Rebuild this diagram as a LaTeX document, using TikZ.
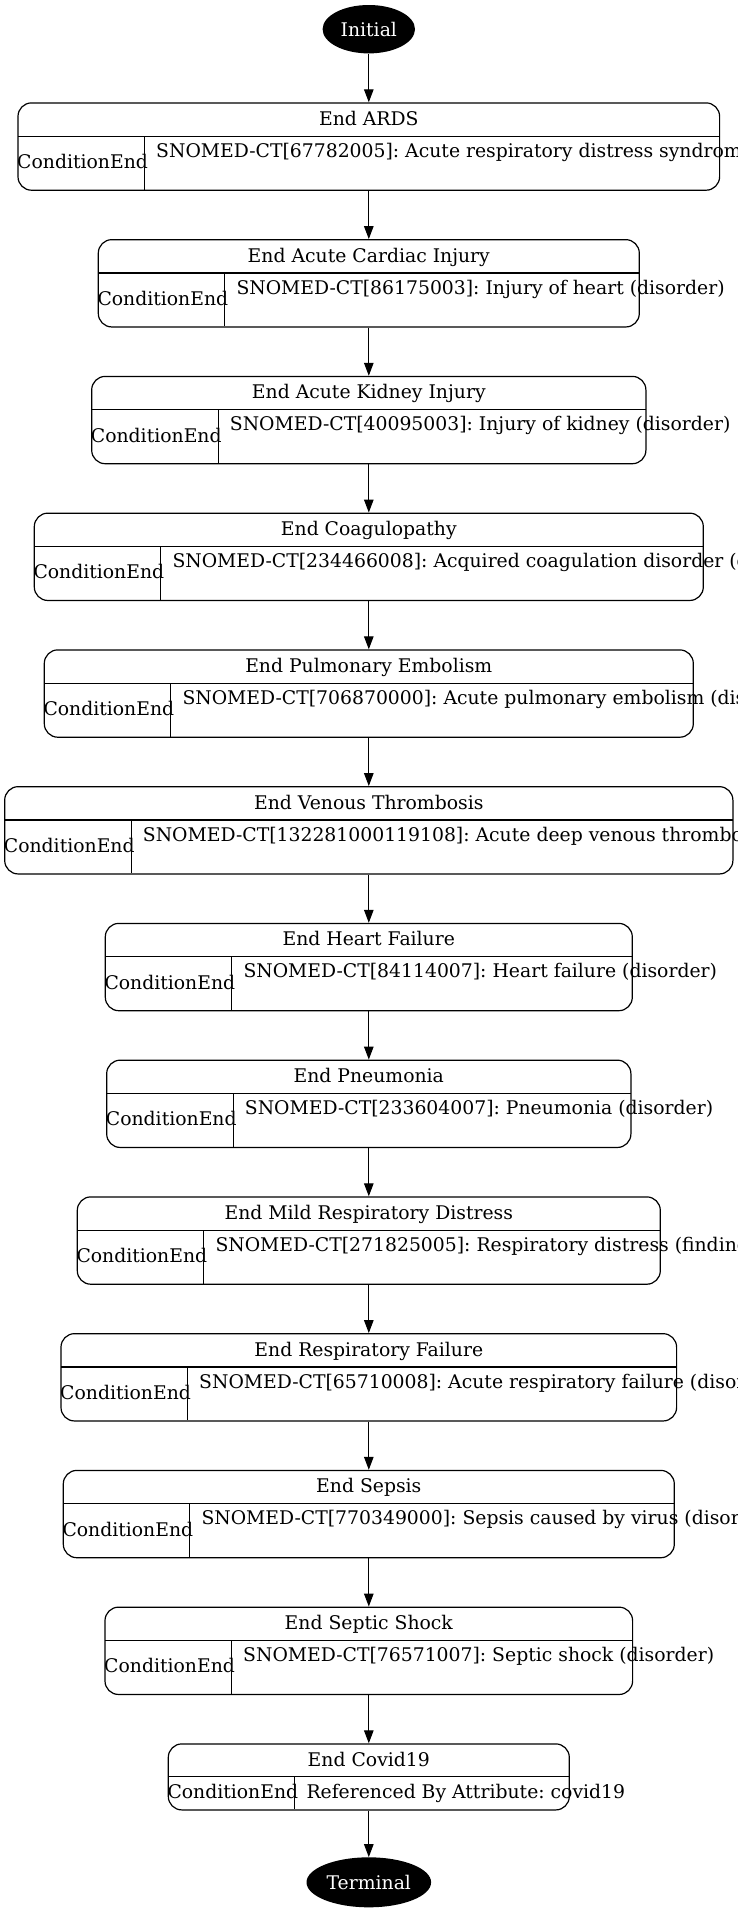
\documentclass[tikz,border=0pt]{standalone}
\usepackage{fontspec}
\setmainfont{DejaVu Serif}
\usetikzlibrary{shapes.geometric,arrows.meta}
\frenchspacing
\newcommand\lblfont{\fontsize{18.8}{22}\selectfont}
\tikzset{
  cbx/.style={draw, line width=1.2pt, rounded corners=13.5pt, inner sep=0pt},
  sepline/.style={line width=1.2pt},
  txt/.style={inner sep=0pt, font=\lblfont},
  arr/.style={-{Triangle[length=13pt,width=9.5pt]}, line width=1.2pt},
  termnode/.style={ellipse, fill=black, text=white, inner sep=0pt, font=\lblfont},
}
% #1 name, #2 top y, #3 left x, #4 header, #5 text
\newcommand\cbox[5]{%
  \pgfmathsetmacro\bw{2*(368.8-#3)}%
  \node[cbx, minimum width=\bw pt, minimum height=87.3pt, anchor=north] (#1) at (368.8,#2) {};
  \draw[sepline] (#3,#2+34) -- (737.6-#3,#2+34);
  \draw[sepline] (#3+126.5,#2+34) -- (#3+126.5,#2+87.3);
  \node[txt, anchor=base] (#1h) at (368.8,#2+23) {#4};
  \node[txt, anchor=base west] (#1c) at (#3-1,#2+66.2) {ConditionEnd};
  \node[txt, anchor=base west] (#1t) at (#3+138,#2+55) {#5};
}
\begin{document}
\begin{tikzpicture}[x=1pt,y=-1pt]
\useasboundingbox (0,0) rectangle (737,1912);
\clip (0,0) rectangle (737,1912);
\node[termnode, minimum width=92.4pt, minimum height=48.4pt] (init) at (368.8,29.2) {Initial};
\cbox{b1}{102.3}{18}{End ARDS}{SNOMED-CT[67782005]: Acute respiratory distress syndrome (disorder)}
\cbox{b2}{239.05}{98.3}{End Acute Cardiac Injury}{SNOMED-CT[86175003]: Injury of heart (disorder)}
\cbox{b3}{375.8}{91.7}{End Acute Kidney Injury}{SNOMED-CT[40095003]: Injury of kidney (disorder)}
\cbox{b4}{512.55}{34.3}{End Coagulopathy}{SNOMED-CT[234466008]: Acquired coagulation disorder (disorder)}
\cbox{b5}{649.3}{44.3}{End Pulmonary Embolism}{SNOMED-CT[706870000]: Acute pulmonary embolism (disorder)}
\cbox{b6}{786.05}{4.7}{End Venous Thrombosis}{SNOMED-CT[132281000119108]: Acute deep venous thrombosis (disorder)}
\cbox{b7}{922.8}{105.3}{End Heart Failure}{SNOMED-CT[84114007]: Heart failure (disorder)}
\cbox{b8}{1059.55}{106.7}{End Pneumonia}{SNOMED-CT[233604007]: Pneumonia (disorder)}
\cbox{b9}{1196.3}{77.3}{End Mild Respiratory Distress}{SNOMED-CT[271825005]: Respiratory distress (finding)}
\cbox{b10}{1333.05}{61}{End Respiratory Failure}{SNOMED-CT[65710008]: Acute respiratory failure (disorder)}
\cbox{b11}{1469.8}{63.3}{End Sepsis}{SNOMED-CT[770349000]: Sepsis caused by virus (disorder)}
\cbox{b12}{1606.55}{105}{End Septic Shock}{SNOMED-CT[76571007]: Septic shock (disorder)}
% Covid19 box (single-line cells)
\node[cbx, minimum width=401pt, minimum height=66pt, anchor=north] (b13) at (368.8,1743.3) {};
\draw[sepline] (168.3,1776.3) -- (569.3,1776.3);
\draw[sepline] (294.8,1776.3) -- (294.8,1809.3);
\node[txt, anchor=base] (b13h) at (368.8,1766.5) {End Covid19};
\node[txt, anchor=base west] (b13c) at (167.3,1798.8) {ConditionEnd};
\node[txt, anchor=base west] (b13t) at (306.3,1798.8) {Referenced By Attribute: covid19};
\node[termnode, minimum width=124.6pt, minimum height=50pt] (term) at (368.8,1882.3) {Terminal};
\draw[arr] (init.south) -- (b1.north);
\foreach \a/\b in {b1/b2,b2/b3,b3/b4,b4/b5,b5/b6,b6/b7,b7/b8,b8/b9,b9/b10,b10/b11,b11/b12,b12/b13}
  \draw[arr] (\a.south) -- (\b.north);
\draw[arr] (b13.south) -- (term.north);
\end{tikzpicture}
\end{document}
